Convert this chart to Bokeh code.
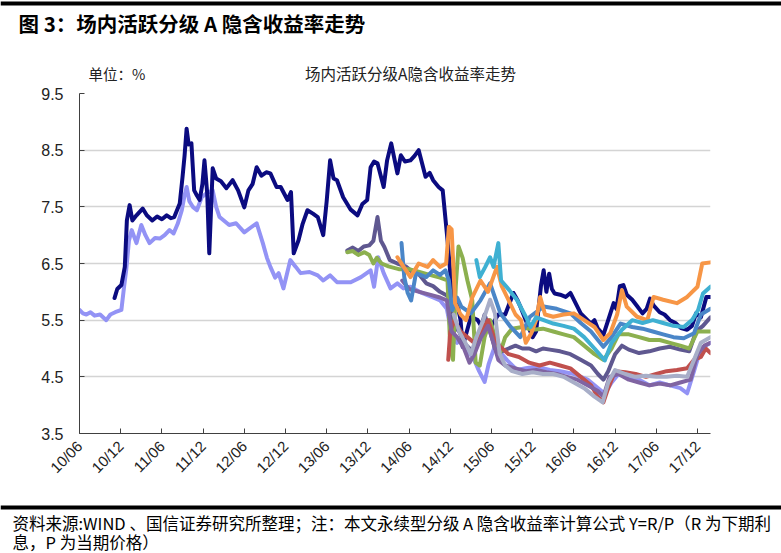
import math
from bokeh.plotting import figure
from bokeh.layouts import column
from bokeh.models import BoxAnnotation, FixedTicker, Range1d
from bokeh.core.properties import value
from bokeh.embed import file_html
from bokeh.resources import INLINE

# ---- axis data ----
tick_pos = [0, 6, 12, 18, 24, 30, 36, 42, 48, 54, 60, 66, 72, 78, 84, 90]
tick_labels = ["10/06", "10/12", "11/06", "11/12", "12/06", "12/12", "13/06", "13/12",
               "14/06", "14/12", "15/06", "15/12", "16/06", "16/12", "17/06", "17/12"]
y_ticks = [3.5, 4.5, 5.5, 6.5, 7.5, 8.5, 9.5]

# ---- series (t = months since 2010-06, v = implied yield %) ----
navy_t = [5.1, 5.5, 6.1, 6.6, 6.9, 7.3, 7.7, 8.3, 9.2, 9.8, 10.6, 11.3, 12.0, 12.7, 13.3, 13.8,
          14.6, 15.0, 15.3, 15.6, 15.9, 16.3, 16.7, 17.1, 17.5, 17.9, 18.2, 18.6, 18.9, 19.4,
          19.9, 20.6, 21.4, 22.3, 23.1, 24.0, 24.6, 25.2, 25.8, 26.5, 27.2, 27.8, 28.7, 29.3,
          30.3, 30.8, 31.2, 31.9, 32.5, 33.2, 34.0, 34.7, 35.5, 36.0, 36.5, 37.0, 37.5, 38.4,
          39.5, 40.5, 41.2, 41.9, 42.4, 42.9, 43.4, 44.3, 44.8, 45.4, 46.3, 46.8, 47.4, 48.2,
          48.8, 49.4, 50.4, 51.0, 51.5, 52.3, 52.9, 53.6, 54.3, 55.0, 55.5, 55.8, 57.0, 58.0,
          59.0, 60.0, 61.0, 62.0, 63.2, 63.8, 64.2, 65.0, 66.0, 66.5, 67.2, 67.6, 68.0, 68.4,
          68.8, 69.2, 70.0, 70.8, 71.5, 73.0, 74.5, 75.0, 75.5, 76.3, 77.0, 77.8, 78.2, 78.7,
          79.2, 79.7, 80.5, 81.2, 82.0, 82.6, 83.1, 83.6, 84.5, 85.2, 86.0, 86.8, 87.6, 88.5,
          89.2, 89.8, 90.5, 91.3, 91.9]
navy_v = [5.89, 6.05, 6.12, 6.44, 7.26, 7.53, 7.26, 7.35, 7.47, 7.35, 7.26, 7.33, 7.28, 7.35, 7.30, 7.32,
          7.56, 8.02, 8.40, 8.88, 8.60, 8.62, 7.79, 7.70, 7.62, 7.90, 8.32, 7.74, 6.68, 8.18,
          8.00, 7.95, 7.83, 7.97, 7.79, 7.49, 7.79, 7.90, 8.20, 8.05, 8.11, 8.09, 7.85, 7.85,
          7.62, 7.76, 6.68, 6.91, 7.20, 7.44, 7.38, 7.32, 7.00, 7.60, 8.32, 8.00, 7.97, 7.67,
          7.45, 7.35, 7.55, 7.62, 8.20, 8.30, 8.27, 7.85, 8.32, 8.62, 8.09, 8.41, 8.30, 8.32,
          8.40, 8.50, 8.03, 8.10, 7.97, 7.85, 7.79, 6.91, 5.91, 5.80, 5.50, 5.03, 5.56, 5.50,
          5.30, 5.40, 5.60, 5.60, 5.98, 5.85, 5.74, 5.50, 5.20, 5.30, 6.10, 6.38, 6.00, 6.32,
          6.05, 5.97, 5.95, 5.91, 5.98, 5.62, 5.44, 5.50, 5.35, 5.24, 5.50, 5.80, 5.70, 6.10,
          6.12, 5.95, 5.86, 5.75, 5.62, 5.70, 5.88, 5.76, 5.64, 5.60, 5.50, 5.45, 5.36, 5.33,
          5.40, 5.62, 5.55, 5.91, 5.91]

peri_t = [0.0, 0.5, 1.0, 1.6, 2.2, 3.0, 3.9, 4.5, 5.2, 6.1, 6.5, 6.8, 7.2, 7.6, 8.3, 9.0, 9.6,
          10.2, 11.0, 11.7, 12.4, 13.1, 13.7, 14.3, 14.9, 15.3, 15.6, 16.0, 16.5, 17.1, 17.8,
          18.5, 19.4, 19.9, 20.4, 21.1, 21.8, 22.8, 24.0, 25.0, 25.8, 26.7, 27.3, 27.8, 28.5,
          29.0, 29.7, 30.7, 31.5, 32.2, 33.5, 34.7, 35.5, 36.5, 37.5, 39.5, 41.0, 42.4, 42.9,
          43.5, 44.3, 45.3, 46.3, 47.2, 48.2, 49.5, 50.5, 51.5, 52.5, 53.5, 54.3, 55.0, 55.8,
          56.5, 57.3, 58.2, 59.0, 59.6, 60.8, 61.5, 62.3, 63.7, 65.0, 66.5, 68.5, 70.0, 72.0,
          74.0, 75.5, 76.5, 77.5, 78.5, 80.0, 81.5, 83.0, 84.5, 86.0, 87.5, 88.5, 89.5, 90.5, 91.9]
peri_v = [5.68, 5.62, 5.60, 5.64, 5.58, 5.60, 5.50, 5.60, 5.64, 5.68, 6.10, 6.38, 6.90, 7.09, 6.86, 7.18, 7.00,
          6.86, 6.95, 6.94, 7.00, 7.09, 7.03, 7.20, 7.44, 7.70, 7.85, 7.60, 7.50, 7.44, 7.67,
          7.74, 7.79, 7.50, 7.32, 7.25, 7.18, 7.21, 7.05, 7.14, 7.21, 6.86, 6.60, 6.44, 6.25,
          6.33, 6.06, 6.56, 6.44, 6.33, 6.35, 6.29, 6.20, 6.29, 6.17, 6.17, 6.26, 6.38, 6.09,
          6.61, 6.33, 6.06, 6.15, 6.06, 6.09, 6.00, 5.95, 5.90, 5.85, 5.70, 5.20, 5.10, 5.20,
          4.95, 4.85, 4.60, 4.41, 4.73, 5.15, 4.90, 4.79, 4.62, 4.65, 4.68, 4.62, 4.60, 4.55,
          4.45, 4.30, 4.20, 4.40, 4.55, 4.50, 4.45, 4.35, 4.40, 4.35, 4.30, 4.21, 4.60, 5.00, 5.10]

green_t = [39.0, 39.8, 40.6, 41.5, 42.2, 42.8, 43.3, 44.0, 45.0, 46.5, 48.0, 49.5, 51.0, 52.5,
           53.6, 54.0, 54.4, 54.8, 55.2, 55.8, 56.5, 57.2, 57.7, 58.3, 59.0, 59.8, 60.5, 61.2,
           62.0, 63.0, 64.5, 66.0, 67.5, 69.0, 70.5, 72.0, 73.5, 75.0, 76.3, 77.5, 78.5, 80.0,
           81.5, 83.0, 84.5, 86.0, 87.5, 88.8, 90.0, 91.9]
green_v = [6.70, 6.72, 6.65, 6.70, 6.65, 6.50, 6.60, 6.50, 6.45, 6.40, 6.40, 6.35, 6.30, 6.25,
           6.20, 5.00, 4.80, 6.10, 6.80, 6.60, 6.20, 5.85, 4.75, 4.70, 5.20, 5.50, 5.20, 4.90,
           5.20, 5.35, 5.38, 5.33, 5.35, 5.30, 5.25, 5.20, 5.05, 4.90, 4.80, 5.00, 5.25, 5.25,
           5.20, 5.15, 5.15, 5.10, 5.05, 5.00, 5.30, 5.30]

slate_t = [39.0, 39.8, 40.6, 41.4, 42.2, 42.8, 43.4, 43.9, 44.4, 45.2, 46.3, 47.5, 48.5, 49.5,
           50.5, 51.5, 52.5, 53.3, 53.9, 54.5, 55.3, 56.0, 56.8, 57.5, 58.3, 59.0, 59.8, 60.5,
           61.5, 62.5, 63.5, 64.5, 65.5, 66.5, 67.5, 68.5, 70.0, 71.5, 73.0, 74.5, 75.5, 76.3,
           77.0, 78.0, 79.0, 80.0, 81.5, 83.0, 84.5, 86.0, 87.5, 88.8, 89.8, 90.8, 91.9]
slate_v = [6.73, 6.78, 6.72, 6.80, 6.82, 6.90, 7.32, 6.90, 6.79, 6.56, 6.50, 6.45, 6.35, 6.30,
           6.15, 6.10, 6.00, 5.95, 5.90, 5.40, 5.30, 5.10, 5.00, 4.90, 5.30, 5.60, 5.30, 5.00,
           4.95, 5.00, 5.05, 5.00, 5.00, 4.95, 5.00, 4.98, 4.95, 4.90, 4.80, 4.70, 4.55, 4.45,
           4.60, 4.90, 5.05, 4.98, 4.92, 4.95, 5.00, 5.03, 4.98, 4.95, 5.30, 5.40, 5.55]

orange_t = [46.3, 47.2, 48.2, 49.4, 50.7, 51.5, 52.5, 53.4, 53.8, 54.2, 54.7, 55.5, 56.3, 57.2,
            58.4, 59.5, 60.8, 61.5, 62.3, 63.5, 64.3, 65.0, 65.8, 66.5, 67.1, 67.8, 69.0, 70.5,
            72.0, 73.5, 75.0, 76.3, 77.3, 78.3, 79.0, 79.7, 81.2, 82.7, 83.6, 85.0, 87.0, 88.5,
            90.0, 90.7, 91.9]
orange_v = [6.61, 6.44, 6.26, 6.50, 6.44, 6.56, 6.44, 6.50, 7.15, 7.10, 5.80, 5.60, 5.50, 5.90,
            6.20, 6.00, 6.44, 6.10, 5.90, 5.60, 5.50, 5.10, 5.27, 5.50, 5.91, 5.60, 5.56, 5.60,
            5.62, 5.50, 5.38, 5.15, 5.27, 5.60, 6.03, 5.74, 5.56, 5.50, 5.91, 5.86, 5.80, 5.91,
            6.09, 6.50, 6.52]

steel_t = [46.9, 47.3, 47.8, 48.3, 49.0, 50.5, 51.5, 52.5, 53.3, 53.8, 54.3, 55.0, 55.6, 57.0,
           58.4, 59.8, 61.3, 62.8, 64.2, 65.6, 67.6, 69.5, 71.5, 73.0, 74.5, 75.5, 76.3, 77.5,
           78.8, 80.5, 82.0, 83.5, 85.0, 86.5, 88.0, 89.5, 90.5, 91.9]
steel_v = [6.86, 6.26, 5.98, 5.85, 6.33, 6.26, 6.38, 6.30, 6.38, 6.20, 5.68, 5.90, 5.74, 5.62,
           5.85, 6.15, 5.62, 5.38, 5.20, 5.56, 5.74, 5.70, 5.62, 5.45, 5.30, 5.15, 5.03, 5.20,
           5.44, 5.38, 5.35, 5.30, 5.25, 5.20, 5.18, 5.27, 5.60, 5.70]

cyan_t = [57.8, 58.3, 59.1, 59.8, 60.3, 61.0, 61.4, 62.6, 63.7, 65.0, 65.7, 66.5, 67.6, 69.0,
          70.5, 72.0, 73.5, 75.0, 76.5, 77.5, 79.0, 80.5, 82.0, 83.5, 85.0, 86.5, 88.0, 89.2,
          90.1, 90.8, 91.9]
cyan_v = [6.56, 6.26, 6.44, 6.61, 6.44, 6.86, 6.20, 6.03, 5.86, 5.56, 5.38, 5.55, 5.50, 5.44,
          5.40, 5.35, 5.20, 5.00, 4.79, 5.10, 5.33, 5.50, 5.45, 5.50, 5.45, 5.40, 5.38, 5.50,
          5.68, 5.97, 6.09]

red_t = [53.7, 54.0, 54.6, 55.5, 56.5, 57.5, 58.5, 59.5, 60.5, 61.3, 62.5, 64.0, 65.5, 67.0,
         68.5, 70.0, 71.5, 73.0, 74.5, 75.5, 76.3, 77.0, 78.0, 79.5, 81.0, 82.5, 84.0, 85.5,
         87.0, 88.5, 89.5, 90.5, 91.2, 91.9]
red_v = [4.80, 5.30, 5.50, 5.30, 5.20, 5.10, 5.30, 5.50, 5.15, 5.03, 4.90, 4.85, 4.75, 4.70,
         4.75, 4.70, 4.65, 4.50, 4.35, 4.15, 4.05, 4.30, 4.60, 4.58, 4.55, 4.50, 4.55, 4.60,
         4.62, 4.65, 4.80, 4.85, 5.00, 4.92]

purple_t = [47.0, 48.0, 49.5, 51.0, 52.5, 53.5, 54.2, 55.0, 56.0, 56.8, 57.5, 58.5, 59.5, 60.3,
            61.0, 62.0, 63.5, 65.0, 66.5, 68.0, 69.5, 71.0, 72.5, 74.0, 75.5, 76.3, 77.2, 78.5,
            80.0, 81.5, 83.0, 84.5, 86.0, 87.5, 89.0, 90.0, 91.0, 91.9]
purple_v = [6.20, 6.05, 6.00, 5.95, 5.90, 5.85, 5.30, 5.20, 5.00, 4.75, 4.90, 5.20, 5.40, 5.10,
            4.80, 4.70, 4.65, 4.60, 4.62, 4.58, 4.55, 4.50, 4.45, 4.35, 4.25, 4.15, 4.50, 4.55,
            4.45, 4.40, 4.35, 4.38, 4.35, 4.40, 4.45, 4.90, 5.05, 5.10]

gray_t = [54.5, 55.3, 56.2, 57.0, 57.8, 58.8, 59.8, 60.5, 61.2, 62.0, 63.0, 64.5, 66.0, 67.5,
          69.0, 70.5, 72.0, 73.5, 75.0, 76.2, 77.0, 78.0, 79.5, 81.0, 82.5, 84.0, 85.5, 87.0,
          88.5, 89.5, 90.5, 91.9]
gray_v = [5.60, 5.30, 5.10, 4.90, 5.20, 5.50, 5.86, 5.62, 4.90, 4.70, 4.60, 4.55, 4.58, 4.55,
          4.55, 4.50, 4.40, 4.30, 4.15, 4.05, 4.40, 4.62, 4.55, 4.50, 4.52, 4.50, 4.50, 4.52,
          4.50, 4.80, 5.10, 5.20]

series = [
    (peri_t, peri_v, "#9393F5"),
    (navy_t, navy_v, "#0B0B80"),
    (slate_t, slate_v, "#5F5890"),
    (green_t, green_v, "#8CB04F"),
    (red_t, red_v, "#C0504D"),
    (purple_t, purple_v, "#8064A2"),
    (gray_t, gray_v, "#A8AEC8"),
    (steel_t, steel_v, "#4A86C8"),
    (orange_t, orange_v, "#F79646"),
    (cyan_t, cyan_v, "#3FB0D2"),
]

W = 781
HEAD_H, MAIN_H, FOOT_H = 86, 414, 53
CJK = value("Noto Sans CJK SC")


def blank(h):
    f = figure(width=W, height=h, output_backend="svg", toolbar_location=None,
               x_range=Range1d(0, W), y_range=Range1d(h, 0),
               min_border_left=0, min_border_right=0,
               min_border_top=0, min_border_bottom=0)
    f.frame_align = False
    f.axis.visible = False
    f.grid.grid_line_color = None
    f.outline_line_color = None
    return f


# ---- header: rule + figure caption + chart title + unit ----
head = blank(HEAD_H)
head.add_layout(BoxAnnotation(left=0, right=W, top=1, bottom=5,
                              fill_color="black", fill_alpha=1.0, line_color=None))
head.text(x=[18], y=[22], text=["图 3：场内活跃分级 A 隐含收益率走势"], text_font=CJK,
          text_font_size="20.5px", text_font_style="bold", text_color="black",
          text_align="left", text_baseline="middle")
head.text(x=[410], y=[72], text=["场内活跃分级A隐含收益率走势"], text_font=CJK,
          text_font_size="15.5px", text_color="#222222",
          text_align="center", text_baseline="middle")
head.text(x=[88], y=[73], text=["单位：%"], text_font=CJK,
          text_font_size="14.5px", text_color="#222222",
          text_align="left", text_baseline="middle")

# ---- main chart ----
p = figure(width=W, height=MAIN_H, output_backend="svg", toolbar_location=None,
           x_range=Range1d(0, 91.9), y_range=Range1d(3.5, 9.5),
           min_border_left=79, min_border_right=71, min_border_top=7, min_border_bottom=67)
p.frame_align = False
p.outline_line_color = None

for t, v, c in series:
    p.line(t, v, line_color=c, line_width=4, line_join="round", line_cap="round")

p.xaxis.ticker = FixedTicker(ticks=tick_pos)
p.xaxis.major_label_overrides = {tp: lb for tp, lb in zip(tick_pos, tick_labels)}
p.xaxis.major_label_orientation = math.pi / 4
p.yaxis.ticker = FixedTicker(ticks=y_ticks)
for ax in (p.xaxis[0], p.yaxis[0]):
    ax.axis_line_color = "#404040"
    ax.axis_line_width = 1
    ax.major_tick_in = 5
    ax.major_tick_out = 0
    ax.major_tick_line_color = "#404040"
    ax.minor_tick_line_color = None
    ax.major_label_text_font = "Liberation Sans"
    ax.major_label_text_color = "#222222"
p.yaxis.major_label_text_font_size = "16px"
p.xaxis.major_label_text_font_size = "15px"
p.yaxis.major_label_standoff = 16
p.xaxis.major_label_standoff = 10

p.xgrid.grid_line_color = None
p.ygrid.grid_line_color = "#D4D4D4"
p.ygrid.grid_line_width = 1.5

# ---- footer: rule + source note ----
foot = blank(FOOT_H)
foot.add_layout(BoxAnnotation(left=0, right=W, top=5, bottom=9,
                              fill_color="black", fill_alpha=1.0, line_color=None))
foot.text(x=[12, 12], y=[22, 41],
          text=["资料来源:WIND 、国信证券研究所整理；注：本文永续型分级 A 隐含收益率计算公式 Y=R/P（R 为下期利",
                "息，P 为当期价格）"],
          text_font=CJK, text_font_size="16.5px", text_color="black",
          text_align="left", text_baseline="middle")

page = column(head, p, foot, spacing=0)
open("out.html", "w").write(file_html(page, INLINE))
